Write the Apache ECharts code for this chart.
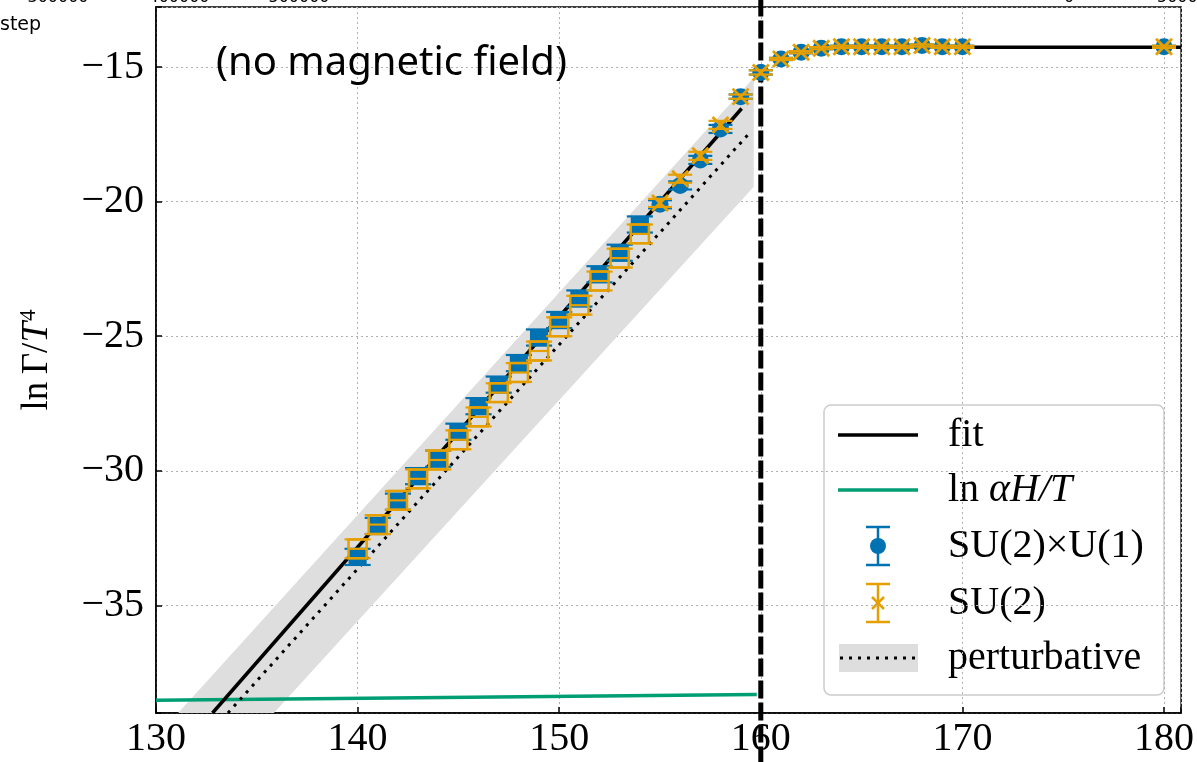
<!DOCTYPE html>
<html>
<head>
<meta charset="utf-8">
<script src="https://cdn.jsdelivr.net/npm/echarts@6/dist/echarts.min.js"></script>
<style>
  html, body { margin: 0; padding: 0; background: #fff; }
  #chart { width: 1197px; height: 762px; }
</style>
</head>
<body>
<div id="chart"></div>
<script>
// temperatures (x) and ln Gamma / T^4 for both runs
const temps = [140, 141, 142, 143, 144, 145, 146, 147, 148, 149, 150, 151, 152, 153, 154,
  155, 156, 157, 158, 159, 160, 161, 162, 163, 164, 165, 166, 167, 168, 169, 170, 180]
const su2u1 = [-33.2, -32.05, -31.15, -30.2, -29.55, -28.55, -27.6, -26.8, -26.0, -25.05, -24.4, -23.6, -22.7, -21.9, -20.85,
  -20.1, -19.4, -18.45, -17.3, -16.1, -15.2, -14.7, -14.45, -14.3, -14.25, -14.25, -14.25, -14.25, -14.2, -14.25, -14.25, -14.25]
const su2 = [-32.9, -32.0, -31.1, -30.3, -29.6, -28.85, -28.0, -27.1, -26.35, -25.55, -24.65, -23.85, -22.95, -22.1, -21.2,
  -20.05, -19.15, -18.3, -17.15, -16.1, -15.2, -14.7, -14.45, -14.3, -14.25, -14.25, -14.25, -14.25, -14.2, -14.25, -14.25, -14.25]
const su2u1Err = [0.3, 0.3, 0.3, 0.3, 0.3, 0.3, 0.3, 0.3, 0.3, 0.3, 0.3, 0.3, 0.3, 0.3, 0.3,
  0.15, 0.15, 0.15, 0.15, 0.08, 0.08, 0.04, 0.04, 0.04, 0.04, 0.04, 0.04, 0.04, 0.04, 0.04, 0.04, 0.04]
const su2Err = [0.35, 0.35, 0.35, 0.35, 0.35, 0.35, 0.35, 0.35, 0.35, 0.35, 0.35, 0.35, 0.35, 0.35, 0.35,
  0.15, 0.15, 0.15, 0.15, 0.08, 0.08, 0.04, 0.04, 0.04, 0.04, 0.04, 0.04, 0.04, 0.04, 0.04, 0.04, 0.04]
const tempErr = [0.45, 0.45, 0.45, 0.45, 0.45, 0.45, 0.45, 0.45, 0.45, 0.45, 0.45, 0.45, 0.45, 0.45, 0.45,
  0, 0, 0, 0, 0, 0, 0, 0, 0, 0, 0, 0, 0, 0, 0, 0, 0]

// fit lines (below and above the transition)
const fitLow = [[132.8, -39.0], [159.05, -16.54]]
const fitHigh = [[163, -14.27], [180.85, -14.27]]
// perturbative curve and its band
const perturbative = [[133.57, -39.0], [159.5, -17.4]]
const bandX = [131.1, 159.65]
const bandHigh = [-39.0, -15.4]
const bandLow = [-42.9, -19.45]
// ln alpha H / T
const alphaH = [[130, -38.53], [159.8, -38.31]]
// transition temperature
const tc = 160

const BLUE = '#0072B2'
const ORANGE = '#E69F00'
const GREEN = '#009E73'
const SERIF = '"Liberation Serif", "DejaVu Serif", serif'

function errData(ys, errs) {
  return temps.map((t, i) => [t, ys[i], tempErr[i], errs[i]])
}

function errRender(color, filled) {
  return function (params, api) {
    const x = api.value(0), y = api.value(1), xe = api.value(2), ye = api.value(3)
    const c = api.coord([x, y])
    const top = api.coord([x, y + ye])[1]
    const bot = api.coord([x, y - ye])[1]
    const children = []
    const ls = { stroke: color, lineWidth: 2.2 }
    if (xe > 0) {
      const l = api.coord([x - xe, y])[0]
      const r = api.coord([x + xe, y])[0]
      children.push({ type: 'rect', shape: { x: l, y: top, width: r - l, height: bot - top },
        style: filled ? { fill: color } : { fill: 'none', stroke: color, lineWidth: 2.5 } })
      children.push({ type: 'line', shape: { x1: l - 4, y1: top, x2: r + 4, y2: top }, style: ls })
      children.push({ type: 'line', shape: { x1: l - 4, y1: bot, x2: r + 4, y2: bot }, style: ls })
      children.push({ type: 'line', shape: { x1: l, y1: c[1], x2: r, y2: c[1] }, style: ls })
    } else {
      children.push({ type: 'line', shape: { x1: c[0], y1: top, x2: c[0], y2: bot }, style: ls })
      children.push({ type: 'line', shape: { x1: c[0] - 12, y1: top, x2: c[0] + 12, y2: top }, style: ls })
      children.push({ type: 'line', shape: { x1: c[0] - 12, y1: bot, x2: c[0] + 12, y2: bot }, style: ls })
      if (filled) {
        children.push({ type: 'circle', shape: { cx: c[0], cy: c[1], r: 8.5 }, style: { fill: color } })
      } else {
        children.push({ type: 'line', shape: { x1: c[0] - 8, y1: c[1] - 8, x2: c[0] + 8, y2: c[1] + 8 }, style: { stroke: color, lineWidth: 2.8 } })
        children.push({ type: 'line', shape: { x1: c[0] - 8, y1: c[1] + 8, x2: c[0] + 8, y2: c[1] - 8 }, style: { stroke: color, lineWidth: 2.8 } })
      }
    }
    return { type: 'group', children }
  }
}

const chart = echarts.init(document.getElementById('chart'))

const legendX = 824, legendY = 405
const legendRows = [435, 490, 546, 603, 658]
const LFONT = '40px ' + SERIF

chart.setOption({
  animation: false,
  grid: { left: 156, right: 13, top: 7, bottom: 49, show: true, borderColor: '#000', borderWidth: 1.5 },
  xAxis: {
    type: 'value', min: 130, max: 180.85, interval: 10,
    axisLine: { lineStyle: { color: '#000', width: 1.5 } },
    axisTick: { inside: true, length: 6, lineStyle: { color: '#000', width: 1.5 } },
    axisLabel: { color: '#000', fontFamily: SERIF, fontSize: 40, margin: 6,
      formatter: v => (Math.abs(v % 10) < 1e-6 ? String(v) : '') },
    splitLine: { show: true, lineStyle: { color: '#b0b0b0', type: [2, 3], width: 1 } }
  },
  yAxis: {
    type: 'value', min: -39.0, max: -12.77,
    axisLine: { lineStyle: { color: '#000', width: 1.5 } },
    axisTick: { inside: true, length: 6, lineStyle: { color: '#000', width: 1.5 } },
    axisLabel: { color: '#000', fontFamily: SERIF, fontSize: 40, margin: 12,
      formatter: v => (Math.abs(v % 5) < 1e-6 ? '\u2212' + Math.abs(v) : '') },
    splitLine: { show: true, lineStyle: { color: '#b0b0b0', type: [2, 3], width: 1 } },
    name: '{n|ln\u2009\u0393/}{i|T}{s|4}',
    nameLocation: 'middle', nameRotate: 90, nameGap: 98,
    nameTextStyle: {
      rich: {
        n: { fontFamily: SERIF, fontSize: 37, color: '#000' },
        i: { fontFamily: SERIF, fontSize: 37, fontStyle: 'italic', color: '#000' },
        s: { fontFamily: SERIF, fontSize: 23, color: '#000', verticalAlign: 'top', padding: [0, 0, 18, 1] }
      }
    }
  },
  series: [
    {
      name: 'band', type: 'custom', z: 1,
      renderItem: function (params, api) {
        const pts = [
          api.coord([bandX[0], bandHigh[0]]), api.coord([bandX[1], bandHigh[1]]),
          api.coord([bandX[1], bandLow[1]]), api.coord([bandX[0], bandLow[0]])
        ]
        return { type: 'polygon', shape: { points: pts }, style: { fill: '#dedede' } }
      },
      clip: true,
      data: [[bandX[0], bandHigh[0]]]
    },
    { name: 'ln αH/T', type: 'line', z: 2, data: alphaH, symbol: 'none', lineStyle: { color: GREEN, width: 3.5 } },
    { name: 'fit', type: 'line', z: 3, data: fitLow, symbol: 'none', lineStyle: { color: '#000', width: 3.5 } },
    { name: 'fit2', type: 'line', z: 3, data: fitHigh, symbol: 'none', lineStyle: { color: '#000', width: 3.5 } },
    { name: 'perturbative', type: 'line', z: 3, data: perturbative, symbol: 'none', lineStyle: { color: '#000', width: 3, type: [3, 6] } },
    { name: 'Tc', type: 'line', z: 4, clip: false, data: [[tc, -12.45], [tc, -40.9]], symbol: 'none',
      lineStyle: { color: '#000', width: 5, type: [18, 4] } },
    { name: 'SU(2)×U(1)', type: 'custom', z: 5, renderItem: errRender(BLUE, true), data: errData(su2u1, su2u1Err) },
    { name: 'SU(2)', type: 'custom', z: 6, renderItem: errRender(ORANGE, false), data: errData(su2, su2Err) }
  ],
  graphic: [
    // stray labels from a neighbouring axis
    { type: 'text', left: 0, top: 16, style: { text: 'step', font: '19px "DejaVu Sans"', fill: '#000' } },
    { type: 'text', x: 58, y: 6, style: { text: '300000', font: '16px "DejaVu Sans"', fill: '#000', align: 'center', verticalAlign: 'bottom' } },
    { type: 'text', x: 179, y: 6, style: { text: '400000', font: '16px "DejaVu Sans"', fill: '#000', align: 'center', verticalAlign: 'bottom' } },
    { type: 'text', x: 299, y: 6, style: { text: '500000', font: '16px "DejaVu Sans"', fill: '#000', align: 'center', verticalAlign: 'bottom' } },
    { type: 'text', x: 1069, y: 6, style: { text: '0', font: '16px "DejaVu Sans"', fill: '#000', align: 'center', verticalAlign: 'bottom' } },
    { type: 'text', x: 1157, y: 6, style: { text: '5000', font: '16px "DejaVu Sans"', fill: '#000', align: 'left', verticalAlign: 'bottom' } },
    // panel annotation
    { type: 'text', x: 216, y: 64, z: 20, style: { text: '(no magnetic field)', font: '40px "Noto Sans"', fill: '#000', verticalAlign: 'middle' } },
    // legend
    { type: 'group', z: 30, children: [
      { type: 'rect', shape: { x: legendX, y: legendY, width: 340, height: 290, r: 7 },
        style: { fill: 'rgba(255,255,255,0.8)', stroke: '#cccccc', lineWidth: 1.5 } },
      { type: 'line', shape: { x1: 838, y1: legendRows[0], x2: 918, y2: legendRows[0] }, style: { stroke: '#000', lineWidth: 3.5 } },
      { type: 'line', shape: { x1: 838, y1: legendRows[1], x2: 918, y2: legendRows[1] }, style: { stroke: GREEN, lineWidth: 3.5 } },
      { type: 'line', shape: { x1: 878, y1: legendRows[2] - 19, x2: 878, y2: legendRows[2] + 19 }, style: { stroke: BLUE, lineWidth: 2.5 } },
      { type: 'line', shape: { x1: 866, y1: legendRows[2] - 19, x2: 890, y2: legendRows[2] - 19 }, style: { stroke: BLUE, lineWidth: 2.5 } },
      { type: 'line', shape: { x1: 866, y1: legendRows[2] + 19, x2: 890, y2: legendRows[2] + 19 }, style: { stroke: BLUE, lineWidth: 2.5 } },
      { type: 'circle', shape: { cx: 878, cy: legendRows[2], r: 8 }, style: { fill: BLUE } },
      { type: 'line', shape: { x1: 878, y1: legendRows[3] - 19, x2: 878, y2: legendRows[3] + 19 }, style: { stroke: ORANGE, lineWidth: 2.5 } },
      { type: 'line', shape: { x1: 866, y1: legendRows[3] - 19, x2: 890, y2: legendRows[3] - 19 }, style: { stroke: ORANGE, lineWidth: 2.5 } },
      { type: 'line', shape: { x1: 866, y1: legendRows[3] + 19, x2: 890, y2: legendRows[3] + 19 }, style: { stroke: ORANGE, lineWidth: 2.5 } },
      { type: 'line', shape: { x1: 872, y1: legendRows[3] - 6, x2: 884, y2: legendRows[3] + 6 }, style: { stroke: ORANGE, lineWidth: 2.5 } },
      { type: 'line', shape: { x1: 872, y1: legendRows[3] + 6, x2: 884, y2: legendRows[3] - 6 }, style: { stroke: ORANGE, lineWidth: 2.5 } },
      { type: 'rect', shape: { x: 839, y: legendRows[4] - 14, width: 79, height: 28 }, style: { fill: '#dedede' } },
      { type: 'line', shape: { x1: 840, y1: legendRows[4], x2: 918, y2: legendRows[4] }, style: { stroke: '#000', lineWidth: 3, lineDash: [3, 6] } },
      { type: 'text', x: 948, y: legendRows[0], style: { text: 'fit', font: LFONT, fill: '#000', verticalAlign: 'middle' } },
      { type: 'text', x: 948, y: legendRows[1], style: {
        text: '{r|ln }{i|\u03b1H/T}', verticalAlign: 'middle',
        rich: { r: { fontFamily: SERIF, fontSize: 40, fill: '#000' }, i: { fontFamily: SERIF, fontSize: 40, fontStyle: 'italic', fill: '#000' } } } },
      { type: 'text', x: 948, y: legendRows[2], style: { text: 'SU(2)\u00d7U(1)', font: LFONT, fill: '#000', verticalAlign: 'middle' } },
      { type: 'text', x: 948, y: legendRows[3], style: { text: 'SU(2)', font: LFONT, fill: '#000', verticalAlign: 'middle' } },
      { type: 'text', x: 948, y: legendRows[4], style: { text: 'perturbative', font: LFONT, fill: '#000', verticalAlign: 'middle' } }
    ] }
  ]
})
</script>
</body>
</html>
